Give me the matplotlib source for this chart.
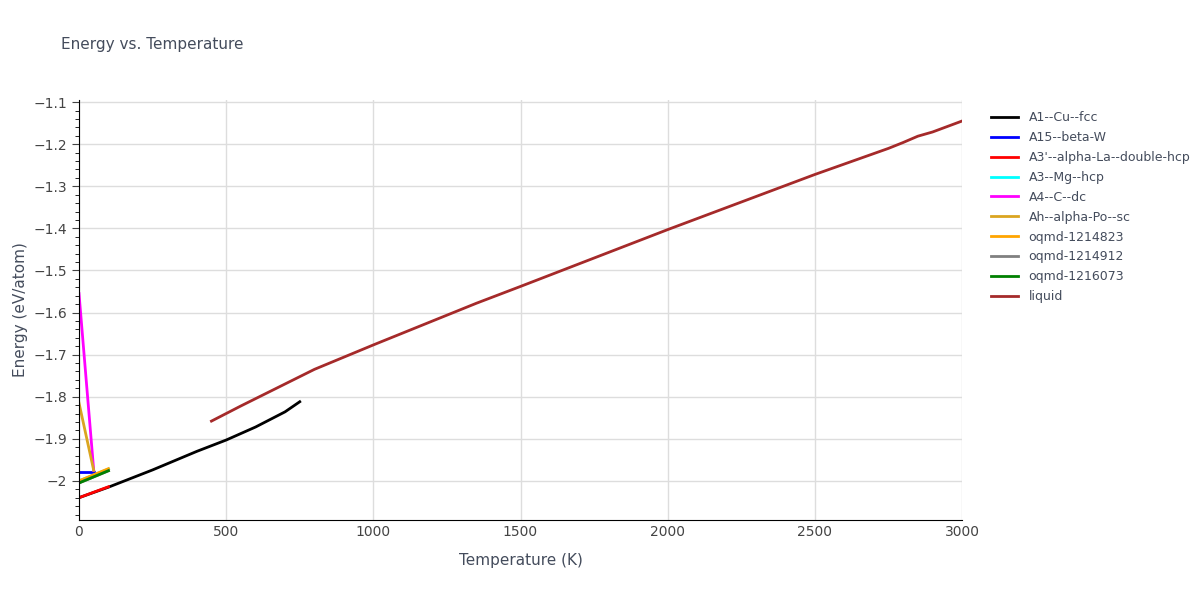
import matplotlib.pyplot as plt
from matplotlib.ticker import MultipleLocator

# series: (label, color, temperatures, energies)
t_fcc = [0, 100, 250, 400, 500, 600, 700, 750]
e_fcc = [-2.04, -2.015, -1.974, -1.930, -1.903, -1.872, -1.836, -1.812]
t_betaw = [0, 50]
e_betaw = [-1.98, -1.98]
t_dhcp = [0, 100]
e_dhcp = [-2.04, -2.014]
t_hcp = [0, 100]
e_hcp = [-2.0, -1.972]
t_dc = [0, 50]
e_dc = [-1.555, -1.975]
t_sc = [0, 50]
e_sc = [-1.815, -1.975]
t_o823 = [0, 100]
e_o823 = [-2.0, -1.971]
t_o912 = [0, 100]
e_o912 = [-2.005, -1.976]
t_o073 = [0, 100]
e_o073 = [-2.005, -1.976]
t_liq = [450, 550, 800, 1000, 1350, 1500, 2000, 2500, 2750, 2800, 2850, 2900, 3000]
e_liq = [-1.858, -1.822, -1.735, -1.677, -1.578, -1.538, -1.403, -1.272, -1.210, -1.196, -1.181, -1.171, -1.145]

series = [
    ("A1--Cu--fcc", "black", t_fcc, e_fcc),
    ("A15--beta-W", "blue", t_betaw, e_betaw),
    ("A3'--alpha-La--double-hcp", "red", t_dhcp, e_dhcp),
    ("A3--Mg--hcp", "cyan", t_hcp, e_hcp),
    ("A4--C--dc", "magenta", t_dc, e_dc),
    ("Ah--alpha-Po--sc", "#DAA520", t_sc, e_sc),
    ("oqmd-1214823", "orange", t_o823, e_o823),
    ("oqmd-1214912", "grey", t_o912, e_o912),
    ("oqmd-1216073", "green", t_o073, e_o073),
    ("liquid", "brown", t_liq, e_liq),
]

fig = plt.figure(figsize=(12, 6), dpi=100)
ax = fig.add_axes([79 / 1200, 80 / 600, 883 / 1200, 420 / 600])
for label, color, t, e in series:
    ax.plot(t, e, color=color, lw=2, label=label)

ax.set_xlim(0, 3000)
ax.set_ylim(-2.093, -1.095)
ax.yaxis.set_major_locator(MultipleLocator(0.1))
ax.yaxis.set_minor_locator(MultipleLocator(0.02))
ax.xaxis.set_major_locator(MultipleLocator(500))
ax.grid(True, color="#dddddd", lw=1)
ax.set_axisbelow(True)
for s in ["top", "right"]:
    ax.spines[s].set_visible(False)
ax.tick_params(colors="#444444", labelsize=10, length=5)
ax.tick_params(axis="y", which="minor", length=3)
ax.tick_params(axis="x", length=0)
ax.set_yticks([-2.0 + 0.1 * i for i in range(10)])
ax.set_yticklabels(["−2", "−1.9", "−1.8", "−1.7", "−1.6", "−1.5", "−1.4", "−1.3", "−1.2", "−1.1"])
ax.set_xlabel("Temperature (K)", color="#444c5c", fontsize=11, labelpad=10)
ax.set_ylabel("Energy (eV/atom)", color="#444c5c", fontsize=11)
fig.text(61 / 1200, 1 - 45 / 600, "Energy vs. Temperature", color="#444c5c", fontsize=11, va="center")
ax.legend(loc="upper left", bbox_to_anchor=(1.02, 1.0), frameon=False, fontsize=9,
          labelcolor="#444c5c", handlelength=2.2, labelspacing=0.55)
fig.savefig("out.png")
